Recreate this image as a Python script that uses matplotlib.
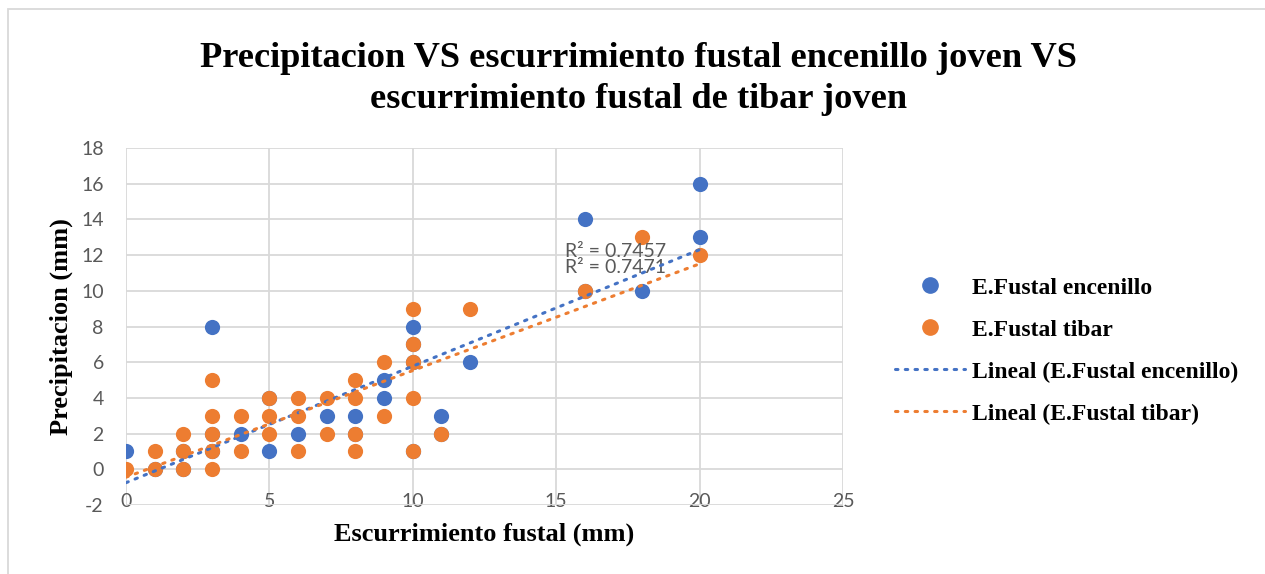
import numpy as np
import matplotlib.pyplot as plt
from matplotlib.patches import Rectangle
from matplotlib.lines import Line2D

plt.rcParams['axes.unicode_minus'] = False

# escurrimiento fustal (mm) vs precipitacion (mm)
enc_x = [0, 1, 2, 2, 3, 3, 3, 4, 5, 5, 6, 7, 8, 8, 9, 9, 10, 10, 10, 10, 11, 11, 12, 16, 16, 18, 20, 20]
enc_y = [1, 0, 1, 0, 8, 2, 1, 2, 1, 4, 2, 3, 3, 2, 5, 4, 8, 6, 7, 1, 3, 2, 6, 14, 10, 10, 16, 13]

tib_x = [0, 1, 1, 2, 2, 2, 3, 3, 3, 3, 3, 4, 4, 5, 5, 5, 6, 6, 6, 7, 7, 8, 8, 8, 8,
         9, 9, 10, 10, 10, 10, 10, 11, 12, 16, 18, 20]
tib_y = [0, 1, 0, 2, 1, 0, 5, 3, 2, 1, 0, 3, 1, 4, 3, 2, 4, 3, 1, 4, 2, 5, 4, 2, 1,
         6, 3, 9, 7, 6, 4, 1, 2, 9, 10, 13, 12]

r2_labels = ['R² = 0.7457', 'R² = 0.7471']

blue = '#4472C4'
orange = '#ED7D31'
grey = '#595959'
dots = (0, (0.8, 2.4))

fig = plt.figure(figsize=(12.65, 5.74), dpi=100)
ax = fig.add_axes([126 / 1265, 1 - 505 / 574, (843 - 126) / 1265, (505 - 148) / 574])

# trend lines (least squares), drawn over the data range
for xs, ys, col in [(enc_x, enc_y, blue), (tib_x, tib_y, orange)]:
    m, b = np.polyfit(xs, ys, 1)
    xx = np.array([min(xs), max(xs)])
    ax.plot(xx, m * xx + b, color=col, lw=2.2, linestyle=dots,
            dash_capstyle='round', zorder=4)

ax.scatter(enc_x, enc_y, s=120, color=blue, zorder=3, linewidths=0)
ax.scatter(tib_x, tib_y, s=120, color=orange, zorder=3, linewidths=0)

ax.text(15.3, 11.75, r2_labels[0], fontsize=14, color=grey, family='Lato', va='bottom')
ax.text(15.3, 10.85, r2_labels[1], fontsize=14, color=grey, family='Lato', va='bottom')

ax.set_xlim(0, 25)
ax.set_ylim(-2, 18)
ax.set_xticks(range(0, 26, 5))
ax.set_yticks(range(-2, 19, 2))
ax.grid(True, color='#d9d9d9', lw=1.3)
ax.set_axisbelow(True)
for s in ax.spines.values():
    s.set_visible(False)
ax.tick_params(length=0, labelsize=14, labelcolor=grey)
ax.tick_params(axis='x', pad=-8.5)
ax.tick_params(axis='y', pad=16)
for lab in ax.get_xticklabels() + ax.get_yticklabels():
    lab.set_family('Lato')

ax.set_xlabel('Escurrimiento fustal (mm)', family='Liberation Serif', weight='bold', fontsize=19)
ax.set_ylabel('Precipitacion (mm)', family='Liberation Serif', weight='bold', fontsize=19)
ax.xaxis.set_label_coords((484 - 126) / (843 - 126), -(523 - 505) / (505 - 148))
ax.yaxis.set_label_coords(-(126 - 73) / (843 - 126), 0.5)

fig.text(638 / 1265, 1 - 79 / 574,
         'Precipitacion VS escurrimiento fustal encenillo joven VS\nescurrimiento fustal de tibar joven',
         ha='center', va='center', family='Liberation Serif', weight='bold', fontsize=26.2,
         linespacing=1.32)

handles = [
    Line2D([], [], marker='o', color=blue, ls='none', markersize=11),
    Line2D([], [], marker='o', color=orange, ls='none', markersize=11),
    Line2D([], [], color=blue, lw=2.2, ls=dots, dash_capstyle='round'),
    Line2D([], [], color=orange, lw=2.2, ls=dots, dash_capstyle='round'),
]
labels = ['E.Fustal encenillo', 'E.Fustal tibar',
          'Lineal (E.Fustal encenillo)', 'Lineal (E.Fustal tibar)']
fig.legend(handles, labels, loc='upper left', bbox_to_anchor=(895 / 1265, 1 - 277 / 574),
           frameon=False, borderpad=0, borderaxespad=0, handlelength=2.96,
           handletextpad=0.3, labelspacing=0.87,
           prop={'family': 'Liberation Serif', 'weight': 'bold', 'size': 17})

# outer chart border
fig.patches.append(Rectangle((8 / 1265, -0.1), 1.2, 1 - 9 / 574 + 0.1, transform=fig.transFigure,
                             fill=False, edgecolor='#d9d9d9', lw=1.3))

fig.savefig('out.png', dpi=100)
